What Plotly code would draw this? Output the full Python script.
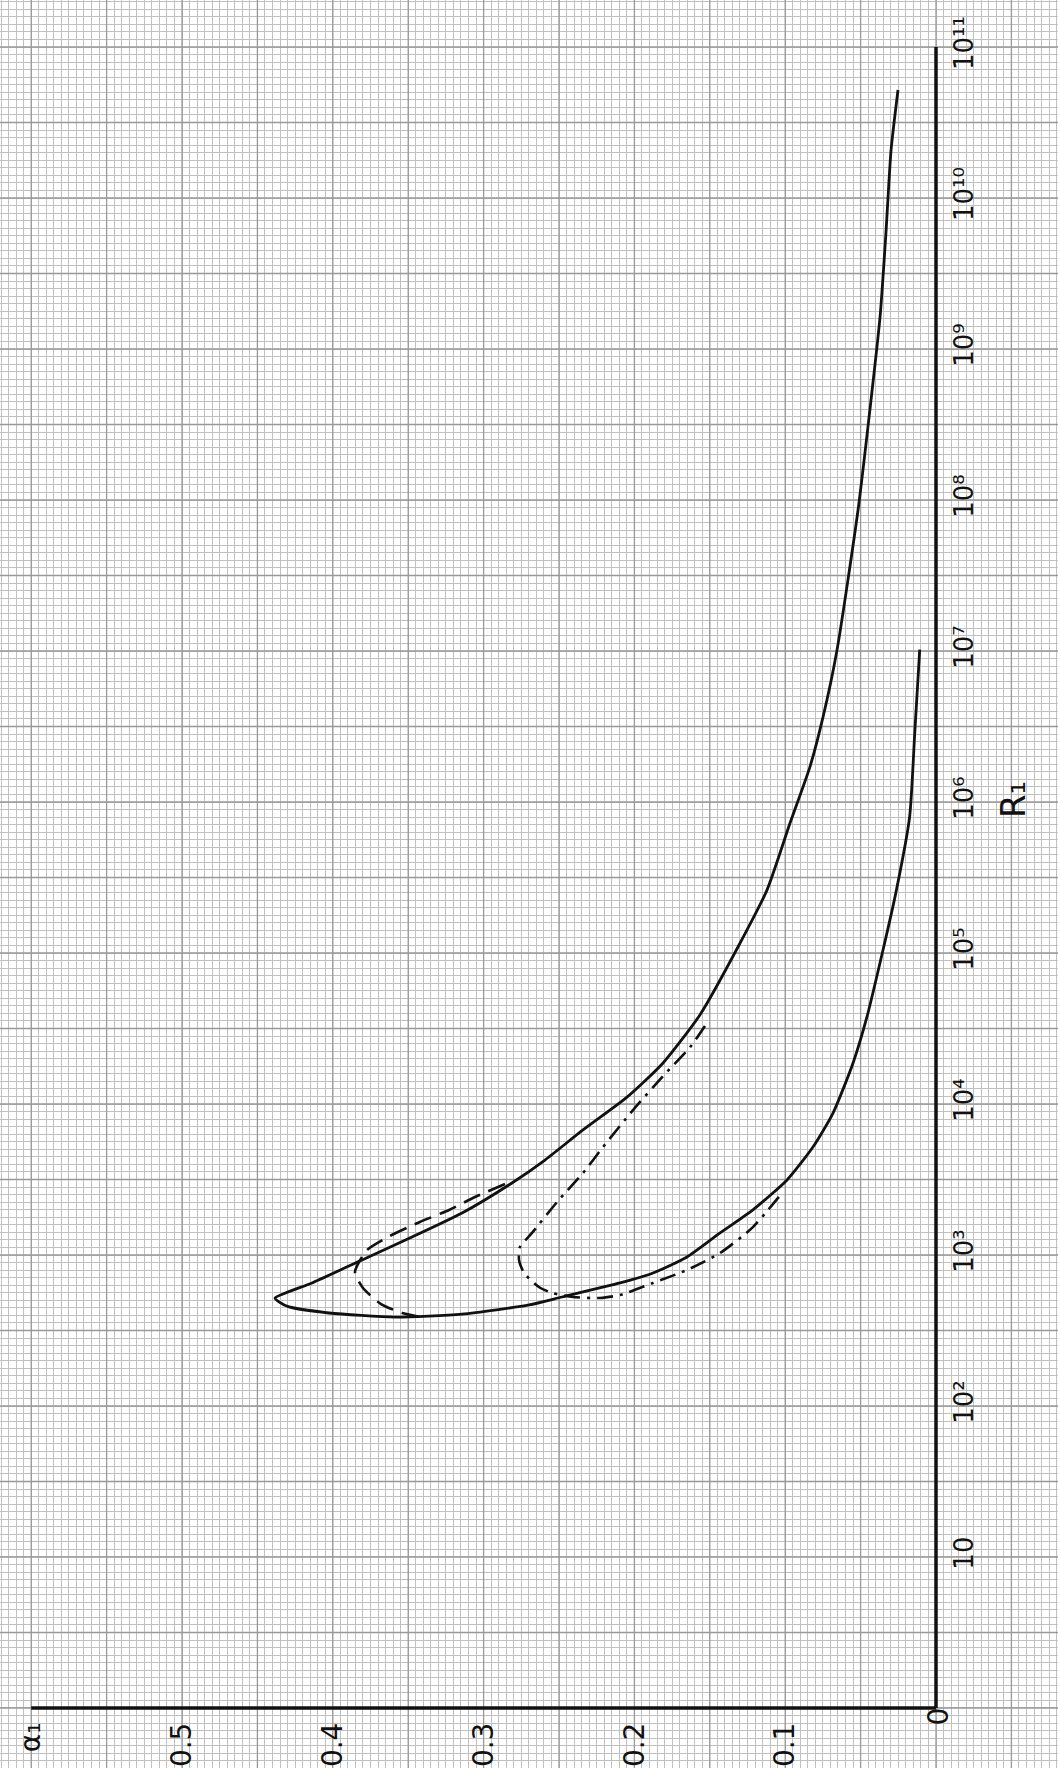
import numpy as np
import plotly.graph_objects as go

# ---------------- data ----------------
# outer solid curve: from the low-alpha end (R ~ 1e7), round the nose, out to R ~ 5e10
solid_alpha = [0.0108, 0.0141, 0.0175, 0.0266, 0.0351, 0.0458, 0.0550, 0.0683, 0.0816, 0.0988,
               0.1214, 0.1432, 0.1651, 0.1877, 0.2095, 0.2480, 0.2699, 0.3143, 0.3588, 0.4025,
               0.4290, 0.4357, 0.4383, 0.4138, 0.3806, 0.3475, 0.3143, 0.2812, 0.2593, 0.2341,
               0.2049, 0.1810, 0.1565, 0.1300, 0.1121, 0.0968, 0.0836, 0.0749, 0.0656, 0.0517,
               0.0431, 0.0371, 0.0332, 0.0298, 0.0252]
solid_R = [1.02e7, 2.86e6, 7.96e5, 2.51e5, 1.05e5, 3.77e4, 1.87e4, 8.71e3, 5.19e3, 3.14e3,
           1.99e3, 1.40e3, 971, 760, 653, 527, 467, 406, 388, 413,
           453, 489, 519, 653, 927, 1315, 1897, 3000, 4256, 6730,
           1.11e4, 1.87e4, 3.9e4, 1.16e5, 2.61e5, 7.26e5, 1.71e6, 3.66e6, 1.02e7, 8.59e7,
           4.59e8, 1.63e9, 5.86e9, 2.08e10, 5.19e10]

# dashed curve near the nose
dash_alpha = [0.2858, 0.3057, 0.3229, 0.3422, 0.3621, 0.3773, 0.3853, 0.3800, 0.3680, 0.3541, 0.3435]
dash_R = [2951, 2421, 1986, 1655, 1337, 1079, 771, 604, 473, 413, 392]

# dash-dot curve
dd_alpha = [0.1532, 0.1631, 0.1810, 0.2009, 0.2208, 0.2341, 0.2513, 0.2679, 0.2759, 0.2765,
            0.2732, 0.2633, 0.2546, 0.2407, 0.2228, 0.2095, 0.1877, 0.1651, 0.1432, 0.1214, 0.1021]
dd_R = [3.29e4, 2.38e4, 1.53e4, 9120, 5190, 3490, 2244, 1400, 1130, 927,
        760, 614, 560, 527, 519, 543, 653, 796, 1030, 1531, 2576]

# axis ticks / labels
alpha_ticks = [0.1, 0.2, 0.3, 0.4, 0.5, 0.6]
alpha_labels = ["0.1", "0.2", "0.3", "0.4", "0.5", "α₁"]
R_ticks = [10.0 ** k for k in range(1, 12)]
R_labels = ["10", "10²", "10³", "10⁴", "10⁵", "10⁶", "10⁷", "10⁸", "10⁹", "10¹⁰", "10¹¹"]
origin_label = "0"
R_title = "R₁"

# ---------------- layout helpers ----------------
W, H = 1058, 1768
X_RANGE = [0.6207, -0.0809]          # alpha increases to the left
Y_RANGE = [-0.3974, 11.3113]         # log10(R)
X_LO, X_HI = -0.0809, 0.6207
R_LO, R_HI = 10 ** -0.3974, 10 ** 11.3113

# graph-paper grid: fine lines (minor grid) and heavier lines every 10 squares
x_minor = np.round(np.arange(-0.08, 0.6251, 0.005), 4)
y_minor = 10 ** np.round(np.arange(-0.35, 11.31, 0.05), 3)
x_heavy = np.round(np.arange(-0.05, 0.6001, 0.05), 4)
y_heavy = 10 ** np.round(np.arange(0, 11.01, 0.5), 3)

gx, gy = [], []
for v in x_heavy:
    gx += [v, v, None]
    gy += [R_LO, R_HI, None]
for v in y_heavy:
    gx += [X_LO, X_HI, None]
    gy += [v, v, None]

ink = "#111111"
fig = go.Figure()

fig.add_trace(go.Scatter(x=gx, y=gy, mode="lines", line=dict(color="#999999", width=1.3),
                         hoverinfo="skip"))

# axes drawn as lines
fig.add_trace(go.Scatter(x=[0.6, 0], y=[1, 1], mode="lines",
                         line=dict(color=ink, width=3.5), hoverinfo="skip"))
fig.add_trace(go.Scatter(x=[0, 0], y=[1, 1e11], mode="lines",
                         line=dict(color=ink, width=3.5), hoverinfo="skip"))

fig.add_trace(go.Scatter(x=solid_alpha, y=solid_R, mode="lines",
                         line=dict(color=ink, width=2.8, shape="spline", smoothing=0.6)))
fig.add_trace(go.Scatter(x=dash_alpha, y=dash_R, mode="lines",
                         line=dict(color=ink, width=2.6, dash="18px,9px", shape="spline", smoothing=0.6)))
fig.add_trace(go.Scatter(x=dd_alpha, y=dd_R, mode="lines",
                         line=dict(color=ink, width=2.6, dash="16px,7px,3px,7px", shape="spline", smoothing=0.6)))

fig.update_layout(
    template="none",
    width=W, height=H,
    margin=dict(l=0, r=0, t=0, b=0),
    paper_bgcolor="white", plot_bgcolor="white",
    showlegend=False,
    xaxis=dict(range=X_RANGE, anchor="free", position=(H - 1708) / H,
               showline=False, zeroline=False, automargin=False, showgrid=False,
               tickmode="array", tickvals=alpha_ticks, ticktext=alpha_labels,
               tickangle=-90, tickfont=dict(family="DejaVu Sans", size=28, color=ink),
               ticks="", ticklabelstandoff=8,
               minor=dict(tickmode="array", tickvals=x_minor, showgrid=True,
                          gridcolor="#c0c0c0", gridwidth=1, ticks="")),
    yaxis=dict(type="log", range=Y_RANGE, anchor="free", position=936 / W, side="right",
               showline=False, zeroline=False, automargin=False, showgrid=False,
               tickmode="array", tickvals=R_ticks, ticktext=R_labels,
               tickangle=-90, tickfont=dict(family="DejaVu Sans", size=26, color=ink),
               ticks="", ticklabelstandoff=10,
               minor=dict(tickmode="array", tickvals=y_minor, showgrid=True,
                          gridcolor="#c0c0c0", gridwidth=1, ticks="")),
)

fig.add_annotation(text=origin_label, xref="paper", yref="paper", x=956 / W, y=1 - 1728 / H,
                   showarrow=False, textangle=-90, font=dict(family="DejaVu Sans", size=28, color=ink))
fig.add_annotation(text=R_title, xref="paper", yref="paper", x=1035 / W, y=1 - 800 / H,
                   showarrow=False, textangle=-90, font=dict(family="DejaVu Sans", size=34, color=ink))

fig.write_html("out.html")
